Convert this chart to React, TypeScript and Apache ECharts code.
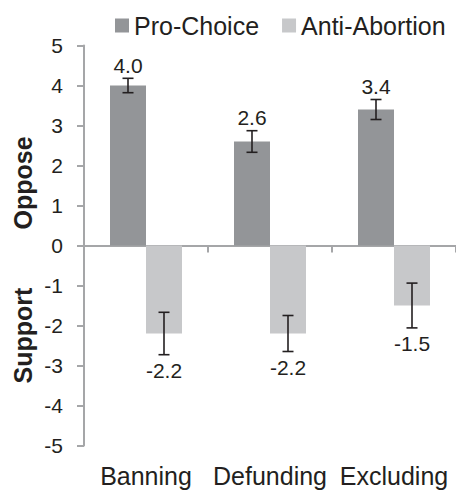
import React, { useEffect, useRef } from "react";
import * as echarts from "echarts";

const categories = ["Banning", "Defunding", "Excluding"];
const proChoice = [4.0, 2.6, 3.4];
const proChoiceErr = [0.18, 0.27, 0.25];
const antiAbortion = [-2.2, -2.2, -1.5];
const antiAbortionErr = [0.53, 0.45, 0.56];
const yMin = -5;
const yMax = 5;
const yStep = 1;

const FONT = '"Liberation Sans", Arial, Helvetica, sans-serif';
const TEXT = "#231f20";
const AXIS = "#a5a6a8";
const DARK = "#939598";
const LIGHT = "#c7c8ca";

function errorSeries(name: string, values: number[], errs: number[], offset: number, above: boolean) {
  return {
    type: "custom",
    name,
    xAxisIndex: 0,
    yAxisIndex: 0,
    silent: true,
    z: 5,
    data: values.map((v, i) => [i, v, errs[i]]),
    renderItem: (_params: any, api: any) => {
      const i = api.value(0);
      const v = api.value(1);
      const e = api.value(2);
      const top = api.coord([i, v + e]);
      const bot = api.coord([i, v - e]);
      const x = top[0] + offset;
      const cap = 5.5;
      const yt = top[1];
      const yb = bot[1];
      const st = { stroke: TEXT, lineWidth: 1.6 };
      return {
        type: "group",
        children: [
          { type: "line", shape: { x1: x, y1: yt, x2: x, y2: yb }, style: st },
          { type: "line", shape: { x1: x - cap, y1: yt, x2: x + cap, y2: yt }, style: st },
          { type: "line", shape: { x1: x - cap, y1: yb, x2: x + cap, y2: yb }, style: st },
          {
            type: "text",
            x,
            y: above ? yt - 13 : yb + 16,
            style: {
              text: v.toFixed(1),
              fill: TEXT,
              fontFamily: FONT,
              fontSize: 21,
              align: "center",
              verticalAlign: "middle",
            },
          },
        ],
      };
    },
  };
}

export default function App() {
  const ref = useRef<HTMLDivElement>(null);
  useEffect(() => {
    if (!ref.current) return;
    const chart = echarts.init(ref.current, null, { renderer: "svg" });
    chart.setOption({
      animation: false,
      backgroundColor: "#ffffff",
      textStyle: { fontFamily: FONT, color: TEXT },
      legend: {
        data: ["Pro-Choice", "Anti-Abortion"],
        left: 110,
        top: 8,
        icon: "rect",
        itemWidth: 14,
        itemHeight: 14,
        itemGap: 23,
        textStyle: { fontFamily: FONT, fontSize: 25, color: TEXT },
      },
      grid: [
        { left: 84, top: 45.5, width: 378, height: 400 },
        { left: 84, top: 45.5, width: 378, height: 400 },
      ],
      xAxis: [
        {
          type: "category",
          gridIndex: 0,
          data: categories,
          axisLine: { onZero: true, lineStyle: { color: AXIS, width: 2 } },
          axisTick: { show: true, length: 7, lineStyle: { color: AXIS, width: 2 } },
          axisLabel: { show: false },
        },
        {
          type: "category",
          gridIndex: 1,
          data: categories,
          axisLine: { show: false, onZero: false },
          axisTick: { show: false },
          axisLabel: {
            interval: 0,
            hideOverlap: false,
            fontFamily: FONT,
            fontSize: 25,
            color: TEXT,
            margin: 18,
          },
        },
      ],
      yAxis: [
        {
          type: "value",
          gridIndex: 0,
          min: yMin,
          max: yMax,
          interval: yStep,
          axisLine: { show: true, lineStyle: { color: AXIS, width: 2 } },
          axisTick: { show: true, length: 7, lineStyle: { color: AXIS, width: 2 } },
          splitLine: { show: false },
          axisLabel: { fontFamily: FONT, fontSize: 21, color: TEXT, margin: 21 },
        },
        { type: "value", gridIndex: 1, min: yMin, max: yMax, show: false },
      ],
      graphic: [
        {
          type: "text",
          x: 23,
          y: 183,
          rotation: Math.PI / 2,
          style: {
            text: "Oppose",
            fill: TEXT,
            fontFamily: FONT,
            fontSize: 25,
            fontWeight: "bold",
            align: "center",
            verticalAlign: "middle",
          },
        },
        {
          type: "text",
          x: 23,
          y: 335.5,
          rotation: Math.PI / 2,
          style: {
            text: "Support",
            fill: TEXT,
            fontFamily: FONT,
            fontSize: 25,
            fontWeight: "bold",
            align: "center",
            verticalAlign: "middle",
          },
        },
      ],
      series: [
        {
          name: "Pro-Choice",
          type: "bar",
          xAxisIndex: 0,
          yAxisIndex: 0,
          data: proChoice,
          barWidth: 36,
          barGap: "0%",
          itemStyle: { color: DARK },
        },
        {
          name: "Anti-Abortion",
          type: "bar",
          xAxisIndex: 0,
          yAxisIndex: 0,
          data: antiAbortion,
          barWidth: 36,
          barGap: "0%",
          itemStyle: { color: LIGHT },
        },
        errorSeries("Pro-Choice error", proChoice, proChoiceErr, -18, true),
        errorSeries("Anti-Abortion error", antiAbortion, antiAbortionErr, 18, false),
      ],
    });
    return () => chart.dispose();
  }, []);
  return (
    <div
      ref={ref}
      style={{ position: "fixed", left: 0, top: 0, width: 456, height: 490 }}
    />
  );
}
